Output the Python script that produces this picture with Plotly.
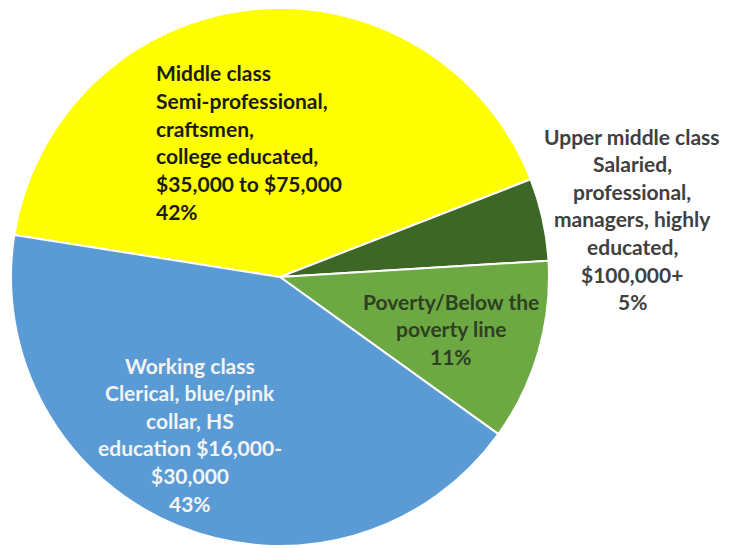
import plotly.graph_objects as go

# ---- data ----
categories = ["Middle class", "Upper middle class", "Poverty/Below the poverty line", "Working class"]
values = [42, 5, 11, 43]
label_lines = [
    ["Middle class", "Semi-professional,", "craftsmen,", "college educated,", "$35,000 to $75,000"],
    ["Upper middle class", "Salaried,", "professional,", "managers, highly", "educated,", "$100,000+"],
    ["Poverty/Below the", "poverty line"],
    ["Working class", "Clerical, blue/pink", "collar, HS", "education $16,000-", "$30,000"],
]

# ---- style ----
OFF = 8  # default page body margin
W, H = 739 - OFF, 548 - OFF
slice_colors = ["#FFFF00", "#3D6726", "#6DA943", "#5B9BD5"]
text_colors = ["#1a1a1a", "#404040", "#2e3f22", "#f4f4f4"]
# label anchor in screen px (x, first-line y, align)
label_pos = [(154, 73, "left"), (632, 136, "center"), (451, 301, "center"), (190, 365, "center")]
line_gap = 27.6
font_family = "Lato"
font_size = 21

cx, cy, r = 280 - OFF, 277 - OFF, 269

fig = go.Figure(go.Pie(
    labels=categories,
    values=values,
    sort=False,
    direction="clockwise",
    rotation=279,
    marker=dict(colors=slice_colors, line=dict(color="white", width=2)),
    textinfo="none",
    hoverinfo="label+percent",
    showlegend=False,
    domain=dict(x=[(cx - r) / W, (cx + r) / W], y=[1 - (cy + r) / H, 1 - (cy - r) / H]),
))

annotations = []
for lines, v, (x0, y0, align), col in zip(label_lines, values, label_pos, text_colors):
    all_lines = lines + [f"{v}%"]
    for i, t in enumerate(all_lines):
        annotations.append(dict(
            text=t, x=(x0 - OFF) / W, y=1 - (y0 - OFF + i * line_gap) / H,
            xref="paper", yref="paper", showarrow=False,
            xanchor=align, yanchor="middle",
            font=dict(family=font_family, size=font_size, color=col, weight="bold"),
        ))

fig.update_layout(
    width=W, height=H,
    margin=dict(l=0, r=0, t=0, b=0),
    paper_bgcolor="white",
    plot_bgcolor="white",
    annotations=annotations,
)

fig.write_html("out.html")
